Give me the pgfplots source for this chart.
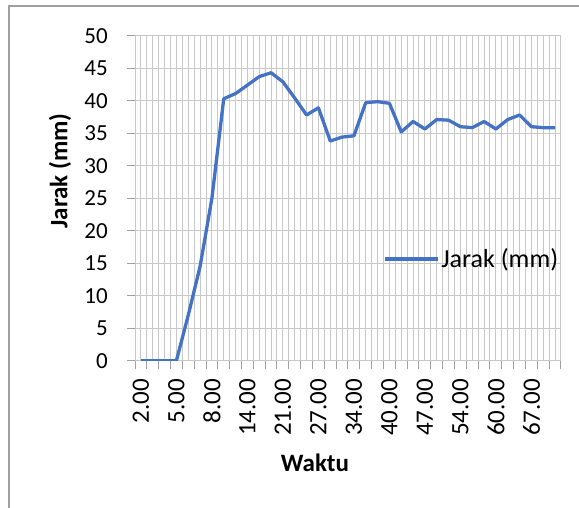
\documentclass[border=0pt]{standalone}
\usepackage{fontspec}
\setmainfont{Carlito}
\usepackage{pgfplots}
\pgfplotsset{compat=1.18}
\definecolor{exblue}{RGB}{68,114,196}
\definecolor{gridc}{RGB}{200,200,200}
\definecolor{axc}{RGB}{160,160,160}

\begin{document}
\begin{tikzpicture}
\useasboundingbox (0pt,0pt) rectangle (579pt,508pt);
\draw[axc, line width=1.2pt] (9pt,-1pt) -- (9pt,502pt) -- (580pt,502pt);
\begin{axis}[
  at={(135pt,147.3pt)}, anchor=south west,
  scale only axis, width=426pt, height=325pt,
  xmin=-0.5, xmax=35.5, ymin=0, ymax=50,
  /pgf/number format/assume math mode=true,
  axis line style={draw=gridc, line width=1pt},
  xtick pos=bottom, ytick pos=left,
  tick align=outside,
  major tick length=8pt, minor tick length=0pt,
  xtick={0,3,...,33},
  xticklabels={2.00,5.00,8.00,14.00,21.00,27.00,34.00,40.00,47.00,54.00,60.00,67.00},
  xtick style={draw=none},
  minor xtick={0,...,35},
  xminorgrids=true,
  extra x ticks={-0.5,0.5,...,35.5},
  extra x tick labels={},
  extra x tick style={xmajorgrids=true, xtick style={draw=axc, line width=1pt}},
  ytick={0,5,...,50},
  ymajorgrids=true,
  ytick style={draw=axc, line width=1pt},
  grid style={draw=gridc, line width=1pt},
  minor grid style={draw=gridc, line width=1pt},
  xticklabel style={font=\fontsize{25}{30}\selectfont, yshift=-10pt, rotate=90, anchor=east, inner sep=0pt},
  yticklabel style={font=\fontsize{23}{28}\selectfont, xshift=-19pt, anchor=east, inner sep=0pt},
  legend style={at={(0.582,0.313)}, anchor=west, draw=none, fill=none, inner sep=0pt,
    font=\fontsize{26}{31}\selectfont, nodes={inner xsep=2pt, inner ysep=0pt}},
  legend image code/.code={\draw[#1] (0pt,0pt) -- (53pt,0pt);},
]
\addplot[color=exblue, line width=3.3pt, line join=round] coordinates {
(0,0) (1,0) (2,0) (3,0) (4,7.0) (5,14.5) (6,25.0) (7,40.3) (8,41.1) (9,42.4)
(10,43.7) (11,44.3) (12,42.9) (13,40.4) (14,37.8) (15,38.9) (16,33.8) (17,34.4)
(18,34.6) (19,39.7) (20,39.85) (21,39.6) (22,35.2) (23,36.8) (24,35.65) (25,37.1)
(26,37.0) (27,36.0) (28,35.85) (29,36.8) (30,35.65) (31,37.1) (32,37.8) (33,36.0)
(34,35.85) (35,35.85)
};
\addlegendentry{Jarak (mm)}
\end{axis}
\node[rotate=90, font=\bfseries\fontsize{25}{30}\selectfont] at (60pt,337pt) {Jarak (mm)};
\node[font=\bfseries\fontsize{25}{30}\selectfont] at (315pt,45pt) {Waktu};
\end{tikzpicture}
\end{document}
